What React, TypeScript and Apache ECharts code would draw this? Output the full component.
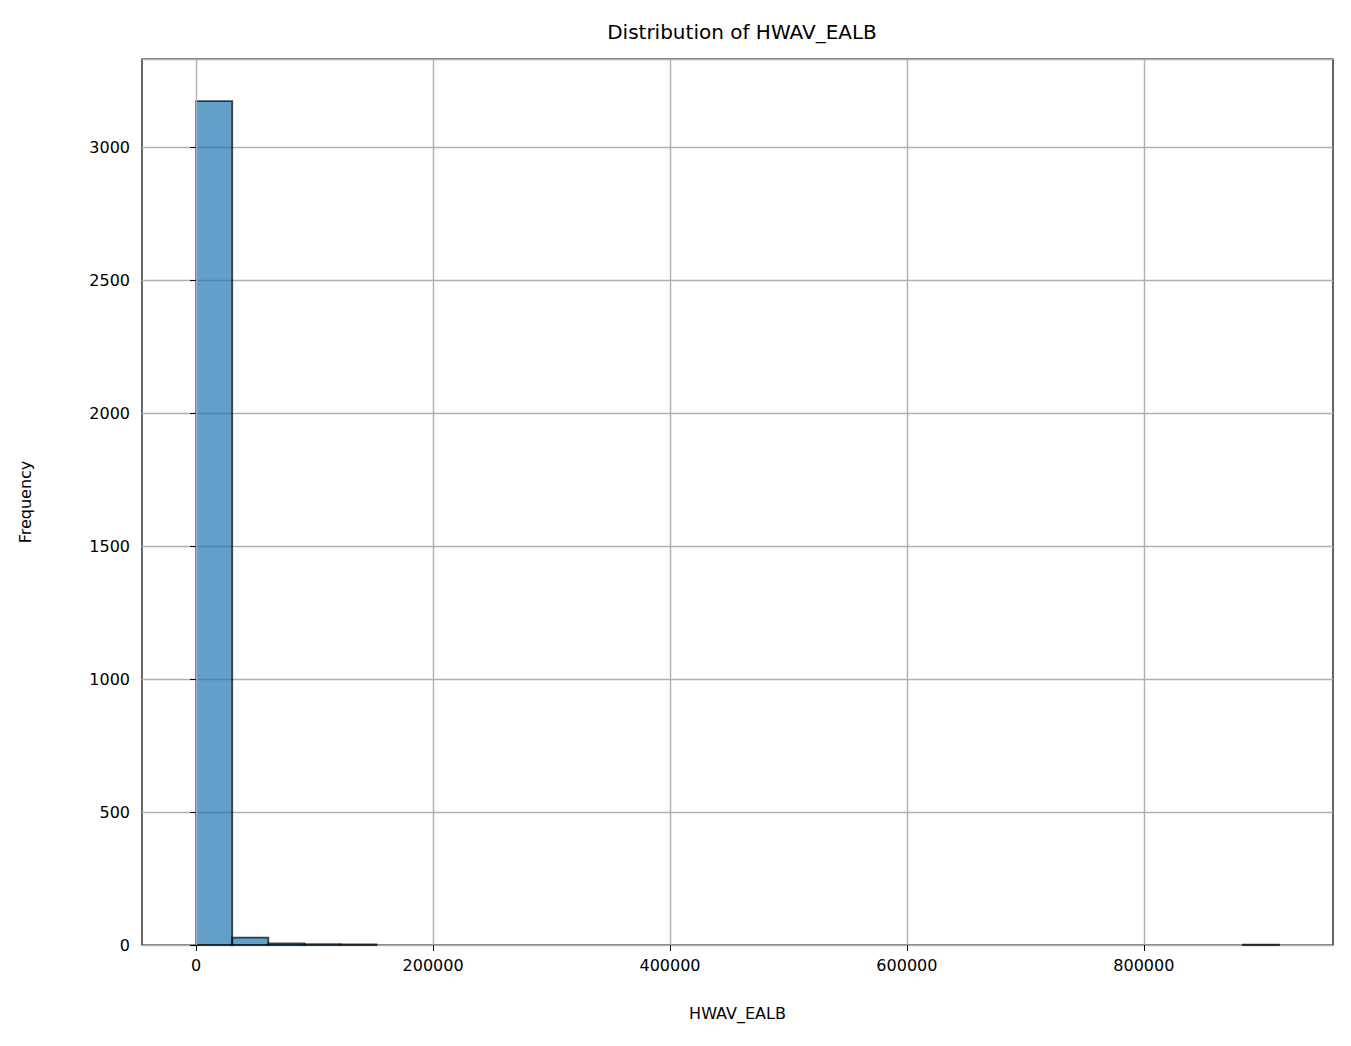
import React, { useEffect, useRef } from "react";
import * as echarts from "echarts";

const binWidth = 30470;
const counts = [3173, 28, 6, 3, 2, 0, 0, 0, 0, 0, 0, 0, 0, 0, 0, 0, 0, 0, 0, 0, 0, 0, 0, 0, 0, 0, 0, 0, 0, 1];
const xTicks = [0, 200000, 400000, 600000, 800000];

const App: React.FC = () => {
  const chartRef = useRef<HTMLDivElement>(null);

  useEffect(() => {
    document.body.style.margin = "0";
    if (!chartRef.current) return;
    const chart = echarts.init(chartRef.current, undefined, { renderer: "svg" });
    const font = "DejaVu Sans";
    const data = counts.map((c, i) => [i * binWidth, (i + 1) * binWidth, c]);

    chart.setOption({
      animation: false,
      textStyle: { fontFamily: font },
      title: {
        text: "Distribution of HWAV_EALB",
        left: 737,
        top: 17,
        textAlign: "center",
        textStyle: { fontFamily: font, fontSize: 20, fontWeight: "normal", color: "#000" },
      },
      grid: { left: 142, right: 18, top: 59, bottom: 101, show: true, borderColor: "#000", borderWidth: 1.2 },
      xAxis: {
        type: "value",
        min: -45700,
        max: 959700,
        name: "HWAV_EALB",
        nameLocation: "middle",
        nameGap: 60,
        nameTextStyle: { fontSize: 16, color: "#000" },
        axisLine: { show: false },
        splitLine: { show: false },
        axisTick: { show: true, customValues: xTicks, length: 6, lineStyle: { color: "#000" } },
        axisLabel: { customValues: xTicks, fontSize: 16, color: "#000", margin: 12, formatter: (v: number) => String(v) },
      },
      yAxis: {
        type: "value",
        min: 0,
        max: 3331,
        interval: 500,
        name: "Frequency",
        nameLocation: "middle",
        nameGap: 109,
        nameTextStyle: { fontSize: 16, color: "#000" },
        axisLine: { show: false },
        axisTick: { show: true, length: 6, lineStyle: { color: "#000" } },
        axisLabel: { fontSize: 16, color: "#000", showMaxLabel: false, margin: 12, formatter: (v: number) => String(v) },
        splitLine: { show: true, lineStyle: { color: "#b0b0b0", width: 1.4 } },
      },
      series: [
        {
          type: "custom",
          z: 1,
          data: [[0, 0]],
          renderItem: () => ({ type: "group", children: [] }),
          markLine: {
            silent: true,
            symbol: "none",
            label: { show: false },
            lineStyle: { color: "#b0b0b0", type: "solid", width: 1.4 },
            data: xTicks.map((v) => ({ xAxis: v })),
          },
        },
        {
          type: "custom",
          z: 3,
          data,
          encode: { x: [0, 1], y: 2 },
          renderItem: (_params: any, api: any) => {
            if (api.value(2) <= 0) return { type: "group", children: [] };
            const p0 = api.coord([api.value(0), 0]);
            const p1 = api.coord([api.value(1), api.value(2)]);
            return {
              type: "rect",
              shape: { x: p0[0], y: p1[1], width: p1[0] - p0[0], height: p0[1] - p1[1] },
              style: { fill: "rgba(31,119,180,0.7)", stroke: "rgba(0,0,0,0.7)", lineWidth: 1.8 },
            };
          },
        },
      ],
    });

    return () => chart.dispose();
  }, []);

  return <div ref={chartRef} style={{ width: 1351, height: 1046 }} />;
};

export default App;
